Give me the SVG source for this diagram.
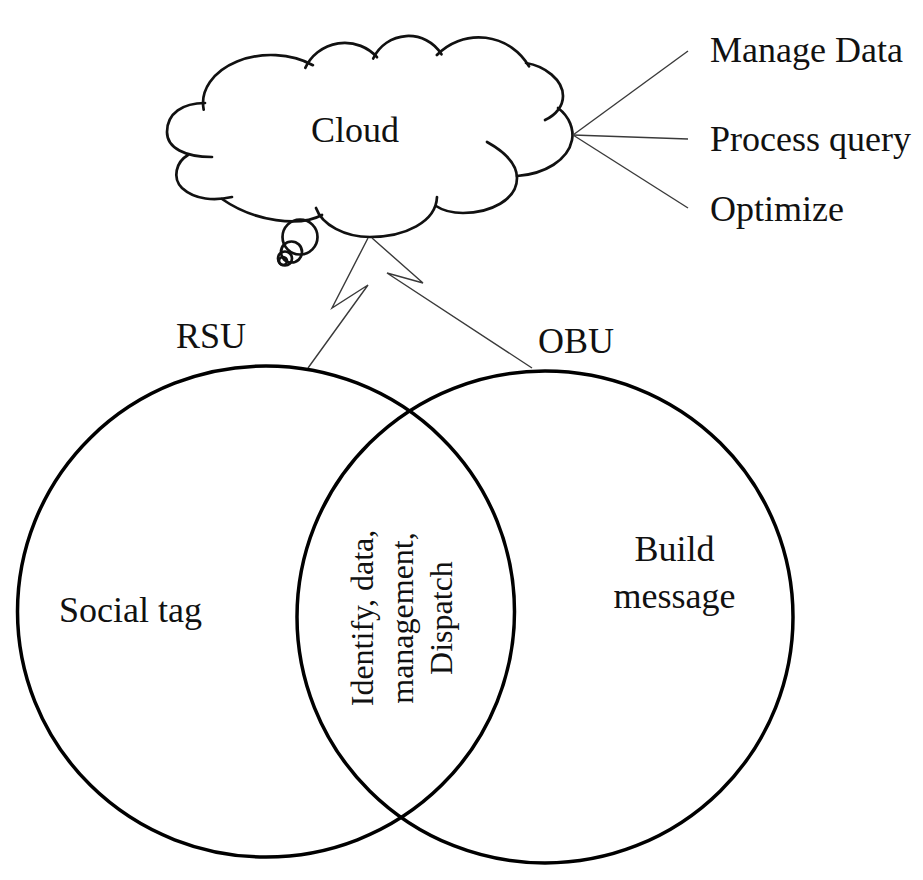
<svg xmlns="http://www.w3.org/2000/svg" width="923" height="880" viewBox="0 0 923 880">
<style>
.lbl{font-family:"Liberation Serif","Times New Roman",serif;font-size:36px;fill:#111}
.rot{font-family:"Liberation Serif","Times New Roman",serif;font-size:32px;fill:#111}
.cl{fill:none;stroke:#111;stroke-width:2.7;stroke-linecap:round}
.venn{fill:none;stroke:#000;stroke-width:3.5}
.conn{fill:none;stroke:#3a3a3a;stroke-width:1.4;stroke-linejoin:miter}
</style>
<rect width="923" height="880" fill="#fff"/>
<g id="cloud">
<path class="cl" d="M205,103 C183,103 167,113 167,132 C167,148 185,157 212,157"/>
<path class="cl" d="M203.7,109.7 A68,48 0 0 1 312.9,65.2"/>
<path class="cl" d="M305.3,67.9 A43.5,43.5 0 0 1 377,57.2"/>
<path class="cl" d="M373.2,58.5 A38.9,38.9 0 0 1 441.5,54.3"/>
<path class="cl" d="M436.9,55 A58.1,58.1 0 0 1 529,66.4"/>
<path class="cl" d="M526,63 C545,66 563,80 563,96 C563,106 556,115 545,120"/>
<path class="cl" d="M558,108 C570,117 574,130 572,140 C568,160 545,174 517,176"/>
<path class="cl" d="M487,142 C505,152 517,163 517,178 C517,200 490,213 463,213 C452,213 442,210 436,206"/>
<path class="cl" d="M437,197 C436,222 405,237 370,237 C345,237 322,225 316,208"/>
<path class="cl" d="M322,215 C300,227 255,222 222,199"/>
<path class="cl" d="M188,155 C176,162 172,178 182,188 C195,200 215,201 232,197"/>
<circle class="cl" cx="300" cy="237" r="17.5" stroke-width="2.2"/>
<circle class="cl" cx="291.5" cy="252" r="10.5" stroke-width="2.2"/>
<circle class="cl" cx="285" cy="258.5" r="7" stroke-width="2.2"/>
<circle class="cl" cx="283" cy="261" r="4" stroke-width="2"/>
<text class="lbl" x="311" y="142">Cloud</text>
</g>
<g id="connectors">
<polyline class="conn" points="368,238 332,308 368,285 308,368"/>
<polyline class="conn" points="372,238 423,283 387,273 532,368"/>
<line class="conn" x1="573" y1="135" x2="688" y2="51"/>
<line class="conn" x1="573" y1="135" x2="688" y2="139"/>
<line class="conn" x1="573" y1="135" x2="688" y2="208"/>
</g>
<g id="tasks">
<text class="lbl" x="710" y="62">Manage Data</text>
<text class="lbl" x="710" y="151">Process query</text>
<text class="lbl" x="710" y="221">Optimize</text>
</g>
<g id="rsu">
<ellipse class="venn" cx="266" cy="611.5" rx="248.5" ry="245.5"/>
<text class="lbl" x="176" y="348">RSU</text>
<text class="lbl" x="59" y="622">Social tag</text>
</g>
<g id="obu">
<ellipse class="venn" cx="545" cy="617" rx="248" ry="246"/>
<text class="lbl" x="538" y="353">OBU</text>
<text class="lbl" x="674.5" y="561" text-anchor="middle">Build</text>
<text class="lbl" x="674.5" y="608" text-anchor="middle">message</text>
</g>
<g id="shared">
<text class="rot" transform="translate(373,618) rotate(-90)" text-anchor="middle">Identify, data,</text>
<text class="rot" transform="translate(413,618) rotate(-90)" text-anchor="middle">management,</text>
<text class="rot" transform="translate(452,618) rotate(-90)" text-anchor="middle">Dispatch</text>
</g>
</svg>
